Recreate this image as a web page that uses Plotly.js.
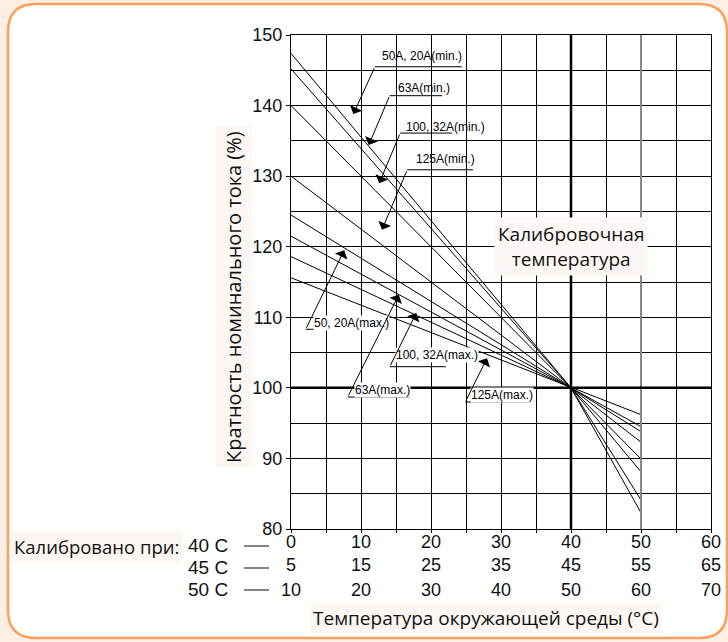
<!DOCTYPE html>
<html>
<head>
<meta charset="utf-8">
<script src="https://cdn.plot.ly/plotly-3.0.1.min.js"></script>
<style>html,body{margin:0;padding:0;background:#fdefe5;}</style>
</head>
<body>
<div id="chart" style="width:728px;height:642px;"></div>
<script>
// ---- data ----
const temperature = [0, 40, 50];
const min50_20A  = [147.4, 100, 82.3];
const min63A     = [145.2, 100, 84.1];
const min100_32A = [140.0, 100, 88.1];
const min125A    = [130.0, 100, 89.9];
const max50_20A  = [124.5, 100, 92.3];
const max63A     = [121.5, 100, 93.8];
const max100_32A = [118.6, 100, 94.5];
const max125A    = [115.6, 100, 96.2];

const xTickVals = [0, 10, 20, 30, 40, 50, 60];
const row40C = ['0', '10', '20', '30', '40', '50', '60'];
const row45C = ['5', '15', '25', '35', '45', '55', '65'];
const row50C = ['10', '20', '30', '40', '50', '60', '70'];
const rowNames = ['40 C', '45 C', '50 C'];
const yTickVals = [80, 90, 100, 110, 120, 130, 140, 150];

const seriesNames = ['50A, 20A(min.)', '63A(min.)', '100, 32A(min.)', '125A(min.)',
                     '50, 20A(max.)', '63A(max.)', '100, 32A(max.)', '125A(max.)'];
const seriesValues = [min50_20A, min63A, min100_32A, min125A, max50_20A, max63A, max100_32A, max125A];

// ---- layout helpers ----
const W = 728, H = 642, L = 291, R = 17, T = 35, B = 113;
const pw = W - L - R, ph = H - T - B;
const px = v => (v - L) / pw;          // pixel x -> paper
const py = v => (H - B - v) / ph;      // pixel y -> paper

const traces = seriesValues.map((vals, i) => ({
  x: temperature, y: vals, type: 'scatter', mode: 'lines', name: seriesNames[i],
  line: {color: '#000', width: 1}, hoverinfo: 'skip'
}));

// callouts: text centre, underline span, arrow head (in data units)
const callouts = [
  {tx: 18.7, ty: 147.0, u0: 12.0, u1: 24.4, uy: 145.5, hx: 8.9,  hy: 138.8},
  {tx: 19.0, ty: 142.5, u0: 14.1, u1: 21.6, uy: 141.4, hx: 11.1, hy: 134.4},
  {tx: 22.1, ty: 137.0, u0: 15.6, u1: 23.0, uy: 136.1, hx: 12.6, hy: 129.0},
  {tx: 22.1, ty: 132.4, u0: 16.6, u1: 26.0, uy: 130.9, hx: 13.0, hy: 122.4},
  {tx: 8.7,  ty: 109.2, u0: 2.1,  u1: 12.7, uy: 108.3, hx: 7.6,  hy: 119.5},
  {tx: 13.0, ty: 99.7,  u0: 8.1,  u1: 17.0, uy: 98.7,  hx: 15.4, hy: 113.2},
  {tx: 20.9, ty: 104.7, u0: 14.1, u1: 22.1, uy: 103.0, hx: 17.9, hy: 110.6},
  {tx: 30.1, ty: 99.0,  u0: 24.9, u1: 34.1, uy: 98.0,  hx: 28.0, hy: 104.2}
];

const annotations = [];
const shapes = [];
const A = (o) => Object.assign({showarrow: false, xanchor: 'center', yanchor: 'middle'}, o);

// frame (rounded rectangle)
(function(){
  const l = 8, t = 4, r = 727, b = 638, rad = 28;
  const P = (x, y) => px(x) + ',' + py(y);
  const path = 'M' + P(l + rad, t) + ' L' + P(r - rad, t) + ' Q' + P(r, t) + ' ' + P(r, t + rad) +
    ' L' + P(r, b - rad) + ' Q' + P(r, b) + ' ' + P(r - rad, b) +
    ' L' + P(l + rad, b) + ' Q' + P(l, b) + ' ' + P(l, b - rad) +
    ' L' + P(l, t + rad) + ' Q' + P(l, t) + ' ' + P(l + rad, t) + ' Z';
  shapes.push({type: 'path', xref: 'paper', yref: 'paper', path: path, layer: 'below',
    fillcolor: '#ffffff', line: {color: '#f9a05a', width: 2.5}});
})();

// reference lines
shapes.push({type: 'line', xref: 'x', yref: 'y', x0: 50, x1: 50, y0: 80, y1: 150, line: {color: '#888', width: 2}});
shapes.push({type: 'line', xref: 'x', yref: 'y', x0: 40, x1: 40, y0: 80, y1: 150, line: {color: '#000', width: 2.5}});
shapes.push({type: 'line', xref: 'x', yref: 'y', x0: 0, x1: 60, y0: 100, y1: 100, line: {color: '#000', width: 2.5}});

callouts.forEach((c, i) => {
  shapes.push({type: 'line', xref: 'x', yref: 'y', x0: c.u0, x1: c.u1, y0: c.uy, y1: c.uy, line: {color: '#000', width: 1}});
  annotations.push(A({x: c.tx, y: c.ty, xref: 'x', yref: 'y', text: seriesNames[i],
    font: {family: 'Liberation Sans, Arial', size: 12, color: '#000'},
    bgcolor: i >= 4 ? '#ffffff' : 'rgba(0,0,0,0)', borderpad: 0}));
  annotations.push({x: c.hx, y: c.hy, xref: 'x', yref: 'y', ax: c.u0, ay: c.uy, axref: 'x', ayref: 'y',
    text: '', showarrow: true, arrowhead: 1, arrowsize: 2.3, arrowwidth: 1, arrowcolor: '#000', standoff: 0, startstandoff: 0});
});

// calibration temperature box
annotations.push(A({x: 40, y: 120.0, xref: 'x', yref: 'y', text: 'Калибровочная<br>температура',
  font: {family: 'Open Sans', size: 19, color: '#111'}, bgcolor: '#fdf8f6', borderpad: 3}));

// axis titles
annotations.push(A({x: px(233), y: py(297), xref: 'paper', yref: 'paper', text: 'Кратность номинального тока (%)',
  textangle: -90, font: {family: 'Open Sans', size: 20, color: '#111'}, bgcolor: '#fdf7f4', borderpad: 4}));
annotations.push(A({x: px(486), y: py(618), xref: 'paper', yref: 'paper', text: 'Температура окружающей среды (°С)',
  font: {family: 'Open Sans', size: 19, color: '#111'}, bgcolor: '#fdf7f4', borderpad: 2}));

// calibration rows
annotations.push(A({x: px(96), y: py(546), xref: 'paper', yref: 'paper', text: 'Калибровано при:',
  font: {family: 'Open Sans', size: 18.5, color: '#111'}, bgcolor: '#fdf7f4', borderpad: 3}));
const rowY = [545, 567, 589];
rowNames.forEach((n, i) => {
  annotations.push(A({x: px(208), y: py(rowY[i]), xref: 'paper', yref: 'paper', text: n,
    font: {family: 'Liberation Sans, Arial', size: 19, color: '#111'}}));
  shapes.push({type: 'line', xref: 'paper', yref: 'paper', x0: px(244), x1: px(269), y0: py(rowY[i] + 1), y1: py(rowY[i] + 1),
    line: {color: '#333', width: 1.2}});
});
const tickRows = [row40C, row45C, row50C];
const tickRowY = [542, 565, 590];
tickRows.forEach((row, r) => {
  row.forEach((t, i) => {
    annotations.push(A({x: xTickVals[i], y: py(tickRowY[r]), xref: 'x', yref: 'paper', text: t,
      font: {family: 'Liberation Sans, Arial', size: 18, color: '#111'}}));
  });
});

const layout = {
  width: W, height: H,
  margin: {l: L, r: R, t: T, b: B, pad: 0},
  paper_bgcolor: '#fdefe5', plot_bgcolor: 'rgba(0,0,0,0)',
  showlegend: false,
  xaxis: {range: [0, 60], tickvals: xTickVals, showticklabels: false, showgrid: true, gridcolor: '#000', gridwidth: 1,
    ticks: 'outside', ticklen: 3, tickcolor: '#000', showline: true, mirror: true, linecolor: '#000', linewidth: 1,
    zeroline: false,
    minor: {dtick: 5, showgrid: true, gridcolor: '#000', gridwidth: 1, ticks: 'outside', ticklen: 3, tickcolor: '#000'}},
  yaxis: {range: [80, 150], tickvals: yTickVals, showgrid: true, gridcolor: '#000', gridwidth: 1,
    ticks: 'outside', ticklen: 4, tickcolor: '#000', showline: true, mirror: true, linecolor: '#000', linewidth: 1,
    zeroline: false, tickfont: {family: 'Liberation Sans, Arial', size: 18, color: '#111'},
    minor: {dtick: 5, showgrid: true, gridcolor: '#000', gridwidth: 1}},
  shapes: shapes,
  annotations: annotations
};

Plotly.newPlot('chart', traces, layout, {staticPlot: true, displayModeBar: false});
</script>
</body>
</html>
